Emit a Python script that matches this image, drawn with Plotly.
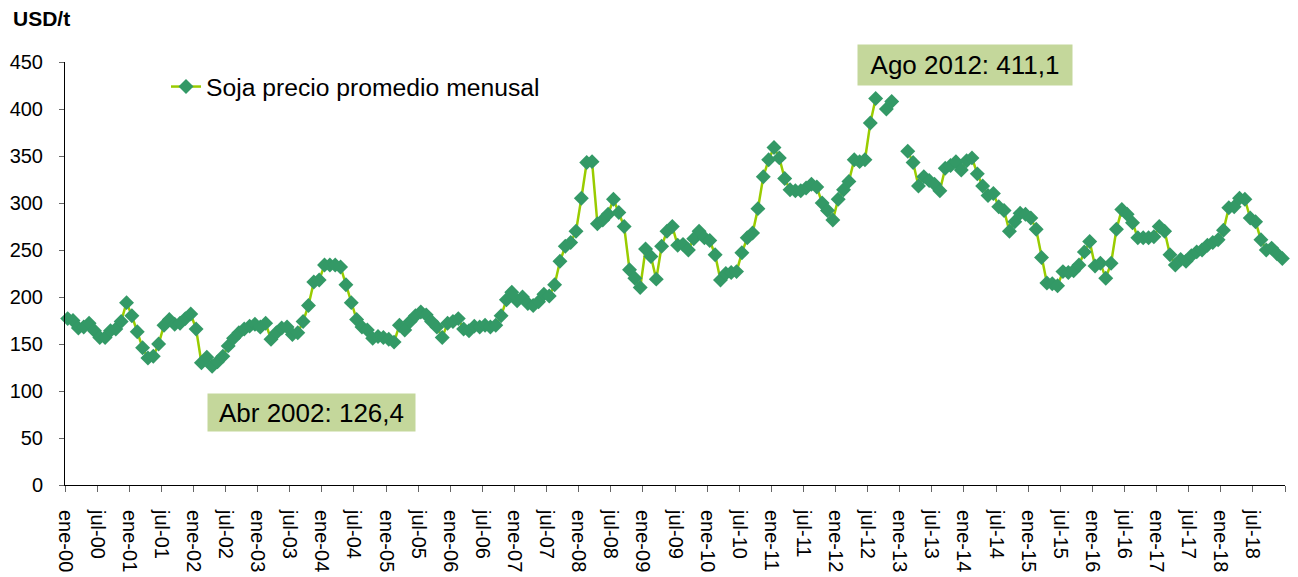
import plotly.graph_objects as go

meses = ["ene", "feb", "mar", "abr", "may", "jun", "jul", "ago", "sep", "oct", "nov", "dic"]
anios = list(range(2000, 2019))
categorias = [f"{m}-{str(a)[2:]}" for a in anios for m in meses]

p2000 = [177, 175, 167, 168, 172, 164, 157, 157, 164, 166, 174, 194]
p2001 = [180, 163, 146, 135, 137, 150, 170, 176, 171, 172, 177, 182]
p2002 = [166, 130, 136, 126.4, 131, 137, 148, 156, 162, 166, 169, 171]
p2003 = [168, 172, 155, 162, 167, 168, 160, 162, 174, 191, 216, 218]
p2004 = [234, 234, 234, 232, 213, 194, 176, 168, 165, 156, 158, 157]
p2005 = [155, 152, 170, 165, 174, 180, 184, 181, 174, 168, 157, 172]
p2006 = [174, 177, 166, 164, 169, 168, 170, 168, 170, 180, 197, 205]
p2007 = [196, 200, 193, 191, 195, 203, 201, 213, 238, 254, 258, 270]
p2008 = [305, 343, 344, 278, 282, 288, 304, 290, 275, 229, 220, 210]
p2009 = [251, 243, 219, 254, 270, 275, 255, 256, 250, 262, 270, 263]
p2010 = [260, 245, 218, 225, 226, 227, 247, 263, 268, 294, 328, 346]
p2011 = [359, 348, 326, 314, 313, 313, 316, 320, 317, 300, 292, 282]
p2012 = [304, 314, 323, 346, 344, 346, 385, 411.1, None, 400, 408, None]
p2013 = [None, 355, 343, 318, 328, 324, 320, 313, 337, 340, 344, 335]
p2014 = [345, 348, 331, 318, 308, 310, 296, 292, 270, 280, 289, 288]
p2015 = [284, 272, 242, 215, 214, 212, 227, 226, 228, 234, 248, 259]
p2016 = [233, 236, 220, 236, 272, 293, 288, 279, 263, 263, 263, 264]
p2017 = [275, 270, 245, 234, 240, 238, 244, 248, 250, 255, 258, 261]
p2018 = [271, 295, 296, 305, 304, 284, 280, 261, 250, 252, 246, 241]

precio = (p2000 + p2001 + p2002 + p2003 + p2004 + p2005 + p2006 + p2007 + p2008 + p2009
          + p2010 + p2011 + p2012 + p2013 + p2014 + p2015 + p2016 + p2017 + p2018)

serie_nombre = "Soja precio promedio menusal"
anot_min = "Abr 2002: 126,4"
anot_max = "Ago 2012: 411,1"
y_ticks = [0, 50, 100, 150, 200, 250, 300, 350, 400, 450]

FONT = "Liberation Sans, Arial, sans-serif"
PW, PH = 1220, 423  # plot area size in px
# the page body adds an 8px margin, so the figure is 8px smaller and shifted
OFF = 8

x_pos = [i + 0.5 for i in range(len(precio))]
tick_vals = list(range(0, len(categorias) + 1, 6))
tick_text = [categorias[v] if v < len(categorias) else "" for v in tick_vals]

fig = go.Figure()
fig.add_trace(go.Scatter(
    x=x_pos, y=precio, mode="lines+markers", name=serie_nombre,
    line=dict(color="#99CC00", width=2.5),
    marker=dict(symbol="diamond", size=11.5, color="#339966"),
    connectgaps=False, cliponaxis=False,
))

fig.update_layout(
    width=1298 - OFF, height=577 - OFF,
    margin=dict(l=65 - OFF, r=13, t=62 - OFF, b=92, autoexpand=False),
    paper_bgcolor="white", plot_bgcolor="white",
    font=dict(family=FONT, size=20, color="black"),
    showlegend=True,
    legend=dict(x=(166 - 65) / PW, y=1 - (87 - 62) / PH, xanchor="left", yanchor="middle",
                font=dict(size=24.7), bgcolor="rgba(0,0,0,0)"),
    xaxis=dict(range=[0, len(categorias)], tickmode="array", tickvals=tick_vals,
               ticktext=tick_text, tickangle=90, showgrid=False, zeroline=False,
               showline=True, linecolor="black", linewidth=1, automargin=False,
               ticks="outside", ticklen=6, tickcolor="#666",
               ticklabelstandoff=14, tickfont=dict(size=20)),
    yaxis=dict(range=[0, 450], tickvals=y_ticks, showgrid=False, zeroline=False,
               showline=True, linecolor="black", linewidth=1, automargin=False,
               ticks="outside", ticklen=5, tickcolor="#666",
               ticklabelstandoff=12, tickfont=dict(size=20)),
    annotations=[
        dict(text="<b>USD/t</b>", xref="paper", yref="paper",
             x=(11 - 65) / PW, y=1 + (62 - 18) / PH,
             xanchor="left", yanchor="middle", showarrow=False,
             font=dict(size=21, family=FONT)),
        dict(text=anot_min, xref="x", yref="y", x=46, y=77, showarrow=False,
             width=197, height=27, align="center",
             bgcolor="#C4D79B", borderpad=5, font=dict(size=26, family=FONT)),
        dict(text=anot_max, xref="x", yref="y", x=168.2, y=447, showarrow=False,
             width=204, height=30, align="center",
             bgcolor="#C4D79B", borderpad=5, font=dict(size=26, family=FONT)),
    ],
)

fig.write_html("out.html")
